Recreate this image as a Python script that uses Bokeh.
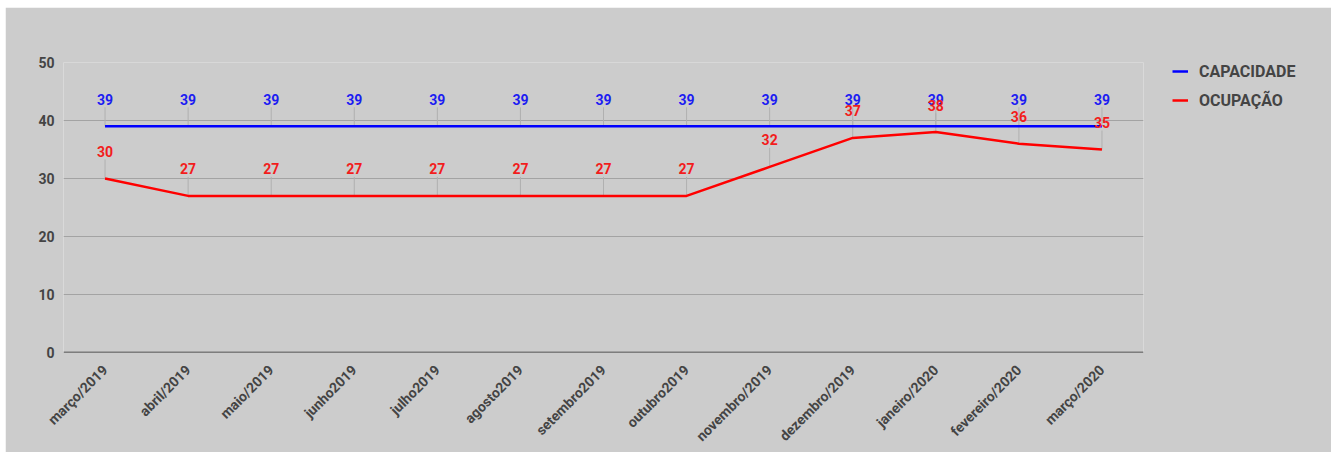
import math
from bokeh.plotting import figure
from bokeh.models import FactorRange, Range1d, FixedTicker, Legend, LegendItem, Span, ColumnDataSource
from bokeh.core.properties import value
from bokeh.embed import file_html
from bokeh.resources import INLINE

months = ["março/2019", "abril/2019", "maio/2019", "junho2019", "julho2019", "agosto2019",
          "setembro2019", "outubro2019", "novembro/2019", "dezembro/2019", "janeiro/2020",
          "fevereiro/2020", "março/2020"]
capacidade = [39, 39, 39, 39, 39, 39, 39, 39, 39, 39, 39, 39, 39]
ocupacao = [30, 27, 27, 27, 27, 27, 27, 27, 32, 37, 38, 36, 35]
y_ticks = [0, 10, 20, 30, 40, 50]

FONT = "Roboto"
BG = "#cccccc"
TXT = "#444444"

src = ColumnDataSource(dict(
    m=months, cap=capacidade, occ=ocupacao,
    cap_t=[str(v) for v in capacidade], occ_t=[str(v) for v in ocupacao],
))

p = figure(x_range=FactorRange(*months, range_padding=0), y_range=Range1d(0, 50),
           frame_width=1080, frame_height=290,
           min_border_left=58, min_border_top=55, min_border_bottom=98, min_border_right=182,
           output_backend="svg", toolbar_location=None,
           background_fill_color=BG, border_fill_color=BG, outline_line_color=None)
p.margin = (7, 6, 6, 5)

# grid
p.xgrid.grid_line_color = None
p.ygrid.grid_line_color = "#a3a3a3"
p.ygrid.grid_line_width = 1
p.yaxis.ticker = FixedTicker(ticks=y_ticks)

for ax in (p.xaxis[0], p.yaxis[0]):
    ax.axis_line_color = None
    ax.major_tick_line_color = None
    ax.minor_tick_line_color = None
    ax.major_label_text_font = FONT
    ax.major_label_text_font_style = "bold"
    ax.major_label_text_font_size = "14px"
    ax.major_label_text_color = TXT
p.yaxis.major_label_standoff = 3
p.xaxis.major_label_standoff = 9
p.xaxis.major_label_orientation = math.pi / 4

# baseline
p.add_layout(Span(location=0, dimension="width", line_color="#222222", line_width=1.5))

# annotation stems
p.ray(x="m", y="cap", length=19, length_units="screen", angle=math.pi / 2,
      line_color="#b0b0b0", line_width=1, source=src)
p.ray(x="m", y="occ", length=19, length_units="screen", angle=math.pi / 2,
      line_color="#b0b0b0", line_width=1, source=src)

r_cap = p.line(x="m", y="cap", line_color="#0000ff", line_width=2.5, source=src)
r_occ = p.line(x="m", y="occ", line_color="#ff0000", line_width=2.5, source=src)

p.text(x="m", y="cap", text="cap_t", y_offset=-27, text_align="center", text_baseline="middle",
       text_font=value(FONT), text_font_style="bold", text_font_size="14px",
       text_color="#1c1cf2", source=src)
p.text(x="m", y="occ", text="occ_t", y_offset=-27, text_align="center", text_baseline="middle",
       text_font=value(FONT), text_font_style="bold", text_font_size="14px",
       text_color="#f21c1c", source=src)

legend = Legend(items=[LegendItem(label="CAPACIDADE", renderers=[r_cap]),
                       LegendItem(label="OCUPAÇÃO", renderers=[r_occ])],
                location=(29, 242), orientation="vertical")
legend.label_text_font = FONT
legend.label_text_font_style = "bold"
legend.label_text_font_size = "16px"
legend.label_text_color = TXT
legend.glyph_width = 16
legend.glyph_height = 20
legend.label_height = 20
legend.label_standoff = 11
legend.spacing = 9
legend.padding = 0
legend.margin = 0
legend.background_fill_alpha = 0
legend.border_line_alpha = 0
p.add_layout(legend, "right")

open("out.html", "w").write(file_html(p, INLINE))
